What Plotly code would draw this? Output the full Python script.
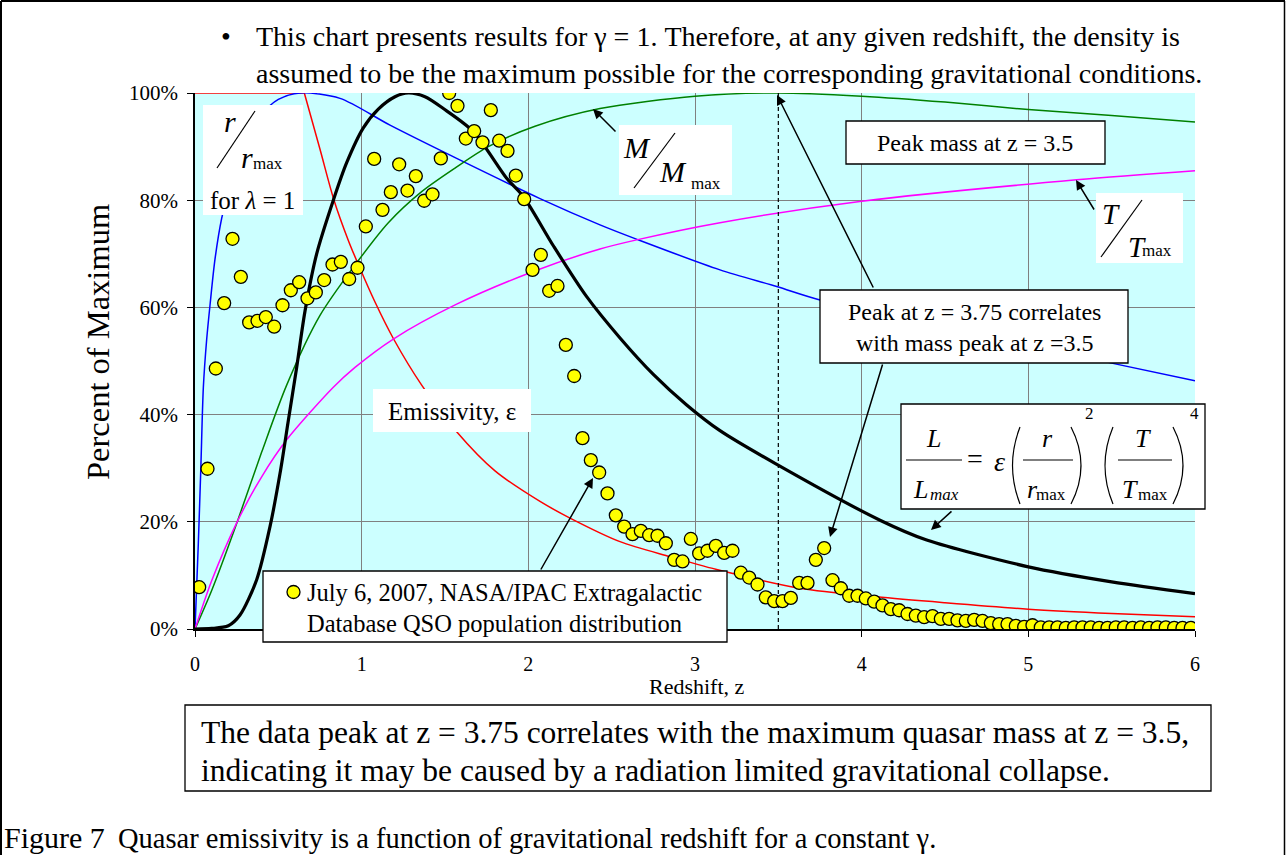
import plotly.graph_objects as go

FONT = "Liberation Serif, Times New Roman, serif"

# ---------------- data ----------------
# QSO population distribution (percent of maximum), z bins centred at 0.025 + 0.05k
qso_z = [round(0.025 + 0.05 * k, 3) for k in range(120)]
qso_p = [7.8, 29.9, 48.6, 60.8, 72.8, 65.7, 57.2, 57.5, 58.2, 56.4,
         60.4, 63.2, 64.7, 61.7, 62.8, 65.1, 68.0, 68.5, 65.3, 67.4,
         75.1, 87.7, 78.2, 81.5, 86.7, 81.8, 84.5, 79.9, 81.1, 87.8,
         100.0, 97.6, 91.5, 92.9, 90.8, 96.8, 91.1, 89.2, 84.6, 80.2,
         67.0, 69.8, 63.1, 64.0, 53.0, 47.2, 35.6, 31.5, 29.2, 25.3,
         21.2, 19.1, 17.7, 18.3, 17.5, 17.4, 16.0, 12.9, 12.6, 16.8,
         14.1, 14.6, 15.5, 14.2, 14.6, 10.5, 9.6, 8.3, 5.9, 5.2,
         5.2, 5.8, 8.6, 8.6, 12.9, 15.1, 9.1, 7.6, 6.2, 6.2,
         5.7, 5.1, 4.4, 3.7, 3.5, 2.8, 2.5, 2.2, 2.4, 1.9,
         1.9, 1.6, 1.5, 1.7, 1.5, 1.1, 0.9, 0.9, 0.6, 0.4,
         0.7, 0.3, 0.3, 0.3, 0.2, 0.3, 0.3, 0.3, 0.2, 0.2,
         0.3, 0.3, 0.2, 0.3, 0.2, 0.3, 0.3, 0.2, 0.2, 0.2]

# r / r_max (blue)
r_z = [0, 0.01, 0.02, 0.035, 0.05, 0.07, 0.09, 0.12, 0.16, 0.22, 0.3, 0.4, 0.5, 0.63,
       0.87, 1.17, 1.57, 2.07, 2.43, 2.66, 3.15, 3.49, 3.75, 4.5, 5.0, 5.5, 6.0]
r_p = [0, 8, 16, 30, 45, 54, 60.4, 69, 76.6, 84, 91, 96, 98.8, 100,
       99, 94, 87.8, 80.3, 75.4, 72.6, 67, 63.9, 61.4, 56.3, 53, 49.6, 46.3]

# emissivity (red)
e_z = [0, 0.656, 0.75, 0.834, 0.92, 0.98, 1.08, 1.19, 1.36, 1.57, 1.8, 2.07, 2.25,
       2.55, 2.85, 3.13, 3.63, 4.09, 4.5, 5.0, 5.5, 6.0]
e_p = [100, 100, 89.5, 80, 72.5, 68, 61, 54.2, 45.5, 36.8, 29.5, 23.8, 20.7,
       16.3, 13.5, 11.1, 7.6, 6.0, 4.9, 3.7, 2.9, 2.3]

# M / M_max (green)
m_z = [0, 0.1, 0.25, 0.4, 0.55, 0.75, 0.96, 1.16, 1.36, 1.56, 1.76, 2.04, 2.43,
       3.0, 3.5, 4.0, 4.5, 5.0, 5.5, 6.0]
m_p = [0, 7.2, 19.7, 33, 45.5, 58.5, 67.9, 75.8, 81.6, 86, 90, 93.8, 97.1,
       99.4, 100, 99.4, 98.3, 96.9, 95.8, 94.6]

# T / T_max (magenta)
t_z = [0, 0.1, 0.25, 0.4, 0.55, 0.83, 0.96, 1.19, 1.57, 2.03, 2.43, 2.65, 3.15, 4.0, 5.29, 6.0]
t_p = [0, 9.0, 19.8, 28.4, 35.3, 45.1, 48.8, 54.1, 60.6, 66.7, 70.9, 72.6, 75.8, 79.8, 83.8, 85.5]

# L / L_max (black)
l_z = [0, 0.1, 0.2, 0.27, 0.37, 0.45, 0.51, 0.56, 0.61, 0.66, 0.73, 0.83, 0.91, 1.01,
       1.1, 1.2, 1.28, 1.38, 1.49, 1.67, 1.87, 1.97, 2.15, 2.35, 2.55, 2.75, 2.95, 3.15,
       3.48, 4.11, 4.39, 5.0, 5.5, 6.0]
l_p = [0, 0.1, 0.6, 2.6, 9.2, 19.1, 29, 38.9, 48.8, 59.3, 70, 80, 87, 93.5,
       97, 99.3, 100, 99.3, 97.1, 92.8, 84.1, 80.7, 71.5, 62, 54.3, 47.5, 41.8, 37.0,
       30.9, 20.3, 16.6, 11.6, 8.8, 6.6]

peak_mass_z = 3.5
x_ticks = [0, 1, 2, 3, 4, 5, 6]
y_ticks = [0, 20, 40, 60, 80, 100]
y_tick_labels = ["0%", "20%", "40%", "60%", "80%", "100%"]

# ---------------- figure ----------------
fig = go.Figure()

def curve(x, y, color, width, shape="spline"):
    fig.add_trace(go.Scatter(x=x, y=y, mode="lines",
                             line=dict(color=color, width=width, shape=shape, smoothing=0.8),
                             hoverinfo="skip"))

curve(e_z[:2], e_p[:2], "#FF0000", 1.5, "linear")
curve(e_z[1:], e_p[1:], "#FF0000", 1.5)
curve(r_z, r_p, "#0000FF", 1.5)
curve(m_z, m_p, "#008000", 1.5)
curve(t_z, t_p, "#FF00FF", 1.5)
curve(l_z, l_p, "#000000", 3.2)
fig.add_trace(go.Scatter(x=[peak_mass_z, peak_mass_z], y=[0, 100], mode="lines",
                         line=dict(color="black", width=1.2, dash="4px,3px"), hoverinfo="skip"))
fig.add_trace(go.Scatter(x=qso_z, y=qso_p, mode="markers",
                         marker=dict(size=13, color="#FFFF00", line=dict(color="black", width=1.3)),
                         hoverinfo="skip"))

L, R, T, B = 195, 1195, 93, 629
def X(px):
    return (px - L) / (R - L)
def Y(py):
    return (B - py) / (B - T)

shapes = []
annotations = []

def box(x0, y0, x1, y1, border=True):
    shapes.append(dict(type="rect", xref="paper", yref="paper", x0=X(x0), x1=X(x1), y0=Y(y0), y1=Y(y1),
                       fillcolor="white", line=dict(color="black", width=1.3 if border else 0),
                       layer="above"))

def line(x0, y0, x1, y1, w=1.3):
    shapes.append(dict(type="line", xref="paper", yref="paper", x0=X(x0), x1=X(x1), y0=Y(y0), y1=Y(y1),
                       line=dict(color="black", width=w), layer="above"))

def text(s, x, y, size, xanchor="center", yanchor="middle", angle=0):
    annotations.append(dict(text=s, xref="paper", yref="paper", x=X(x), y=Y(y), showarrow=False,
                            xanchor=xanchor, yanchor=yanchor, textangle=angle,
                            font=dict(family=FONT, size=size, color="black"), borderpad=0))

def arrow(tipx, tipy, tailx, taily):
    annotations.append(dict(text="", xref="paper", yref="paper", x=X(tipx), y=Y(tipy),
                            ax=tailx - tipx, ay=taily - tipy, showarrow=True, arrowhead=2,
                            arrowsize=1.3, arrowwidth=1.5, arrowcolor="black", standoff=0))

def paren(xt, yt, yb, xc):
    shapes.append(dict(type="path", xref="paper", yref="paper",
                       path=f"M {X(xt)},{Y(yt)} Q {X(xc)},{Y((yt + yb) / 2)} {X(xt)},{Y(yb)}",
                       line=dict(color="black", width=1.2), layer="above"))

# outer frame
line(1, 1, 1285, 1, 2)
line(1, 1, 1, 855, 2)
line(1284.5, 1, 1284.5, 855, 1.5)

# top note
text("•", 226, 37, 28)
text("This chart presents results for γ = 1. Therefore, at any given redshift, the density is", 255, 37, 28,
     xanchor="left")
text("assumed to be the maximum possible for the corresponding gravitational conditions.", 255, 73, 28,
     xanchor="left")

# r / r_max label
box(203, 105, 303, 215, border=False)
text("<i>r</i>", 230, 122, 30)
line(217, 168, 255, 111, 1.2)
text("<i>r</i>", 247, 157, 30)
text("max", 268, 163, 17)
text("for <i>λ</i> = 1", 252, 200, 25)

# M / M_max label
box(619, 125, 732, 195, border=False)
text("<i>M</i>", 637, 147, 30)
line(634, 188, 675, 133, 1.2)
text("<i>M</i>", 673, 172, 30)
text("max", 706, 183, 17)
arrow(593, 109, 617, 133)

# Peak mass box
box(846, 121, 1105, 164)
text("Peak mass at z = 3.5", 975, 143, 24)

# T / T_max label
box(1096, 193, 1183, 263, border=False)
text("<i>T</i>", 1111, 214, 29)
line(1101, 257, 1142, 200, 1.2)
text("<i>T</i>", 1137, 247, 29)
text("max", 1157, 250, 17)
arrow(1076, 180, 1095, 211)

# Peak at 3.75 box
box(820, 290, 1128, 363)
text("Peak at z = 3.75 correlates", 974, 312, 24)
text("with mass peak at z =3.5", 974, 343, 24)
arrow(777, 95, 874, 289)
arrow(830, 537, 883, 363)

# Emissivity label
box(373, 389, 531, 432, border=False)
text("Emissivity, ε", 452, 411, 25)

# Formula box
box(901, 404, 1205, 509)
text("<i>L</i>", 933, 439, 26)
line(906, 460, 962, 460, 1.2)
text("<i>L</i>", 920, 489, 26)
text("<i>max</i>", 944, 494, 17)
text("=", 975, 459, 28)
text("<i>ε</i>", 999, 461, 28)
paren(1020, 427, 504, 1005)
text("<i>r</i>", 1047, 439, 26)
line(1023, 460, 1073, 460, 1.2)
text("<i>r</i>", 1032, 489, 26)
text("max", 1051, 494, 17)
paren(1071, 427, 504, 1091)
text("2", 1089, 413, 17)
paren(1113, 427, 504, 1097)
text("<i>T</i>", 1143, 439, 26)
line(1118, 460, 1172, 460, 1.2)
text("<i>T</i>", 1130, 489, 26)
text("max", 1153, 494, 17)
paren(1173, 427, 504, 1193)
text("4", 1194, 413, 17)
arrow(931, 530, 953, 510)

# Legend box
box(263, 571, 727, 642)
shapes.append(dict(type="circle", xref="paper", yref="paper", x0=X(287), x1=X(300), y0=Y(585.5), y1=Y(598.5),
                   fillcolor="#FFFF00", line=dict(color="black", width=1.3), layer="above"))
text("July 6, 2007, NASA/IPAC Extragalactic", 306, 592, 24.5, xanchor="left")
text("Database QSO population distribution", 306, 623, 24.5, xanchor="left")
arrow(593, 478, 540, 571)

# axis titles
text("Redshift, z", 697, 686, 22)
text("Percent of Maximum", 98, 342, 32.5, angle=-90)

# bottom note box
box(185, 705, 1211, 791)
text("The data peak at z = 3.75 correlates with the maximum quasar mass at z = 3.5,", 200, 732, 31.5,
     xanchor="left")
text("indicating it may be caused by a radiation limited gravitational collapse.", 200, 770, 31.5,
     xanchor="left")

# caption
text("Figure 7", 3, 837, 30, xanchor="left")
text("Quasar emissivity is a function of gravitational redshift for a constant γ.", 117, 838, 28.5,
     xanchor="left")

fig.update_layout(
    width=1286, height=855,
    margin=dict(l=L, r=1286 - R, t=T, b=855 - B, pad=0),
    paper_bgcolor="white", plot_bgcolor="#CCFFFF",
    showlegend=False,
    font=dict(family=FONT, color="black"),
    shapes=shapes, annotations=annotations,
    xaxis=dict(range=[0, 6], tickvals=x_ticks, showgrid=True, gridcolor="#808080", gridwidth=1,
               showline=True, linecolor="black", linewidth=1.5, ticks="outside", ticklen=6,
               tickcolor="black", tickwidth=1.2, tickfont=dict(size=20, family=FONT), zeroline=False,
               ticklabelstandoff=10),
    yaxis=dict(range=[0, 100], tickvals=y_ticks, ticktext=y_tick_labels, showgrid=True,
               gridcolor="#808080", gridwidth=1, showline=True, linecolor="black", linewidth=1.5,
               ticks="outside", ticklen=6, tickcolor="black", tickwidth=1.2,
               tickfont=dict(size=21, family=FONT), zeroline=False, ticklabelstandoff=5),
)

fig.write_html("out.html", config={"displayModeBar": False},
               post_script="document.body.style.margin='0px';document.body.style.overflow='hidden';")
